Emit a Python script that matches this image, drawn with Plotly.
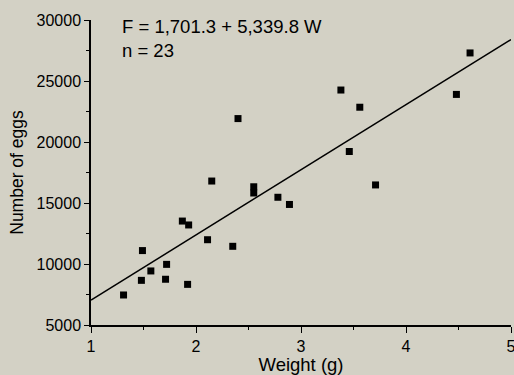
import plotly.graph_objects as go

weight = [1.31, 1.48, 1.49, 1.57, 1.72, 1.71, 1.87, 1.93, 1.92, 2.11, 2.15, 2.35,
          2.40, 2.55, 2.55, 2.78, 2.89, 3.38, 3.56, 3.46, 3.71, 4.48, 4.61]
eggs = [7460, 8660, 11100, 9430, 9970, 8750, 13520, 13200, 8330, 11990, 16800, 11450,
        21920, 16330, 15820, 15470, 14880, 24260, 22850, 19220, 16480, 23900, 27300]

intercept = 1701.3
slope = 5339.8
line_x = [1, 5]
line_y = [intercept + slope * v for v in line_x]

font_family = "Arial, Liberation Sans, Helvetica, sans-serif"
bg = "#d3d1c5"

fig = go.Figure()
fig.add_trace(go.Scatter(x=line_x, y=line_y, mode="lines",
                         line=dict(color="black", width=1.5), showlegend=False,
                         hoverinfo="skip"))
fig.add_trace(go.Scatter(x=weight, y=eggs, mode="markers",
                         marker=dict(symbol="square", size=7, color="black"),
                         showlegend=False, cliponaxis=False))

fig.add_annotation(x=0.068, y=1.02, xref="paper", yref="paper", xanchor="left", yanchor="top",
                   text="F = 1,701.3 + 5,339.8 W<br>n = 23", showarrow=False, align="left",
                   font=dict(size=18.5, color="black", family=font_family))

fig.update_layout(
    width=514, height=375,
    margin=dict(l=91, r=3, t=20, b=50),
    paper_bgcolor=bg, plot_bgcolor=bg,
    font=dict(family=font_family, color="black"),
)
fig.update_xaxes(range=[1, 5], dtick=1, tick0=1, showgrid=False, zeroline=False,
                 showline=True, linecolor="black", linewidth=1.5, automargin=False,
                 ticks="outside", ticklen=6, tickwidth=1.2, tickcolor="black",
                 minor=dict(ticks="outside", ticklen=3, dtick=0.5, tick0=1, tickcolor="black"),
                 tickfont=dict(size=16), ticklabeloverflow="allow",
                 title=dict(text="Weight (g)", font=dict(size=18.5), standoff=2))
fig.update_yaxes(range=[5000, 30000], dtick=5000, tick0=5000, showgrid=False, zeroline=False,
                 showline=True, linecolor="black", linewidth=1.5, automargin=False,
                 ticks="outside", ticklen=5, tickwidth=1.2, tickcolor="black",
                 minor=dict(ticks="outside", ticklen=3, dtick=2500, tick0=5000, tickcolor="black"),
                 tickformat="d", tickfont=dict(size=16),
                 title=dict(text="Number of eggs", font=dict(size=17.5), standoff=8))

fig.write_html("out.html", config={"displayModeBar": False},
               post_script="document.body.style.margin='0';document.body.style.background='%s';" % bg)
